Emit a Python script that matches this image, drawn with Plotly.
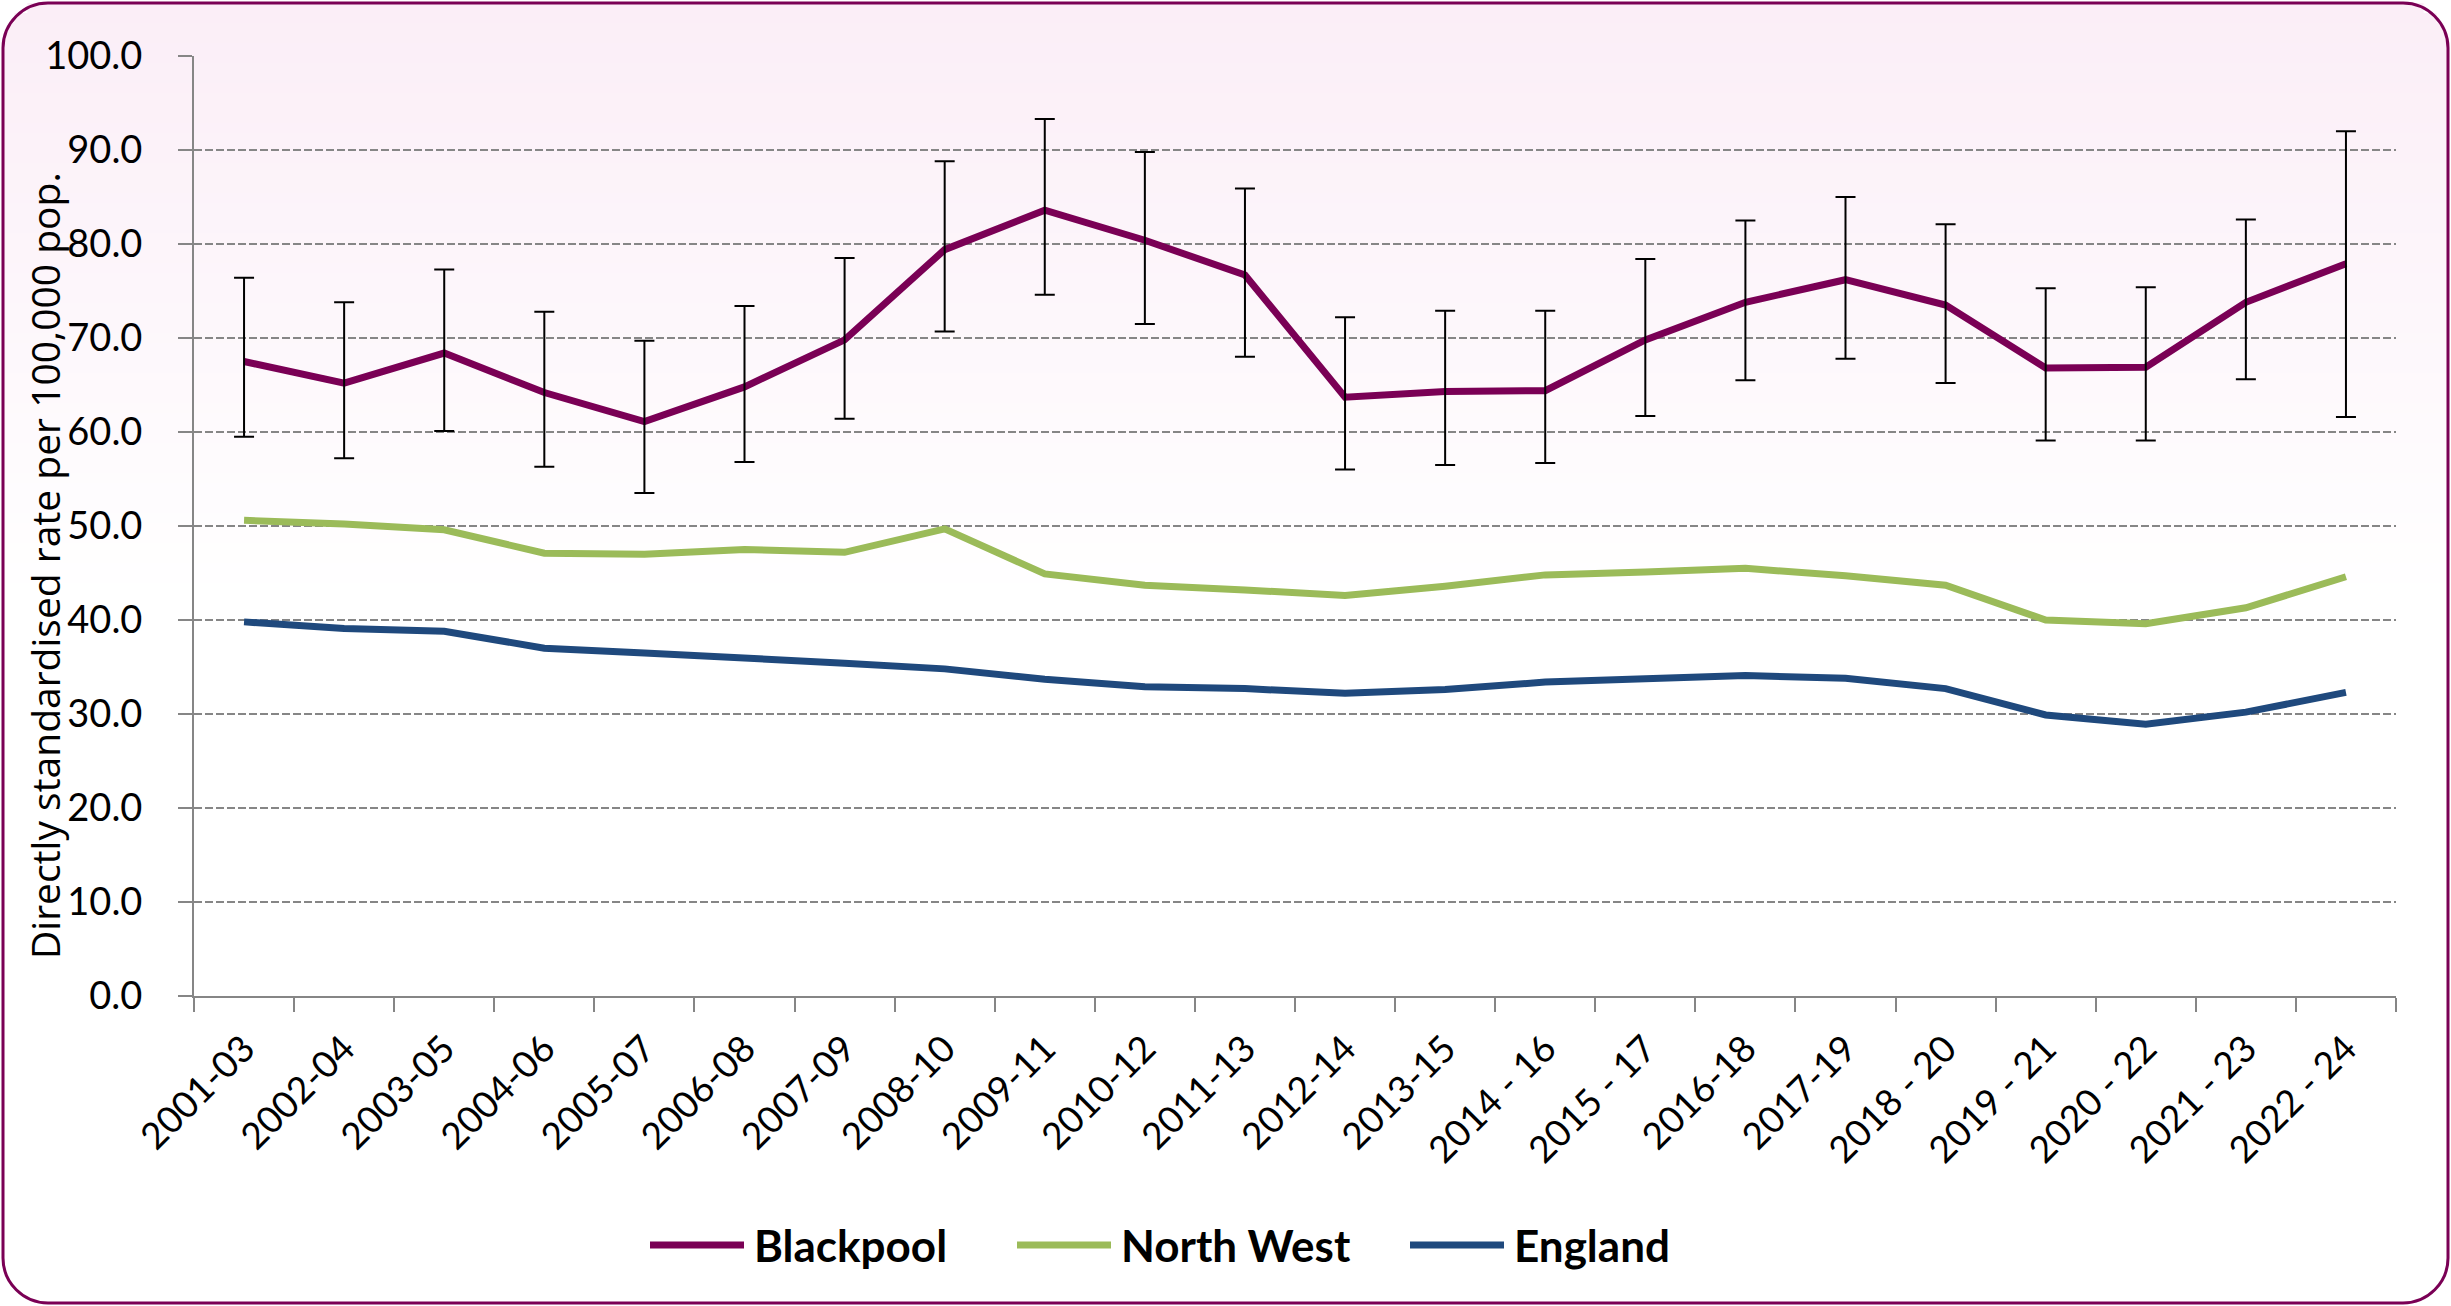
import math
import plotly.graph_objects as go

# ---------------- data ----------------
periods = ["2001-03", "2002-04", "2003-05", "2004-06", "2005-07", "2006-08", "2007-09",
           "2008-10", "2009-11", "2010-12", "2011-13", "2012-14", "2013-15", "2014 - 16",
           "2015 - 17", "2016-18", "2017-19", "2018 - 20", "2019 - 21", "2020 - 22",
           "2021 - 23", "2022 - 24"]

blackpool = [67.5, 65.2, 68.4, 64.2, 61.1, 64.8, 69.8, 79.4, 83.6, 80.4, 76.7,
             63.7, 64.3, 64.4, 69.8, 73.8, 76.2, 73.5, 66.8, 66.9, 73.8, 77.9]
blackpool_upper = [76.4, 73.8, 77.3, 72.8, 69.7, 73.4, 78.5, 88.8, 93.3, 89.8, 85.9,
                   72.2, 72.9, 72.9, 78.4, 82.5, 85.0, 82.1, 75.3, 75.4, 82.6, 92.0]
blackpool_lower = [59.5, 57.2, 60.1, 56.3, 53.5, 56.8, 61.4, 70.7, 74.6, 71.5, 68.0,
                   56.0, 56.5, 56.7, 61.7, 65.5, 67.8, 65.2, 59.1, 59.1, 65.6, 61.6]
north_west = [50.6, 50.2, 49.6, 47.1, 47.0, 47.5, 47.2, 49.7, 44.9, 43.7, 43.2,
              42.6, 43.6, 44.8, 45.1, 45.5, 44.7, 43.7, 40.0, 39.6, 41.3, 44.6]
england = [39.8, 39.1, 38.8, 37.0, 36.5, 36.0, 35.4, 34.8, 33.7, 32.9, 32.7,
           32.2, 32.6, 33.4, 33.7, 34.1, 33.8, 32.7, 29.9, 28.9, 30.2, 32.3]

y_ticks = [0, 10, 20, 30, 40, 50, 60, 70, 80, 90, 100]
series_names = ["Blackpool", "North West", "England"]
y_title = "Directly standardised rate per 100,000 pop."

# ---------------- styles ----------------
PURPLE = "#7A0055"
GREEN = "#9BBB59"
BLUE = "#1F497D"
GRID = "#868686"
W, H = 2451, 1306
ML, MR, MT, MB = 194, 55, 56, 310
PW, PH = W - ML - MR, H - MT - MB


def xp(px):
    return (px - ML) / PW


def yp(py):
    return (H - MB - py) / PH


fig = go.Figure()

fig.add_trace(go.Scatter(x=periods, y=north_west, mode="lines", name=series_names[1],
                         line=dict(color=GREEN, width=7), showlegend=False))
fig.add_trace(go.Scatter(x=periods, y=england, mode="lines", name=series_names[2],
                         line=dict(color=BLUE, width=7), showlegend=False))
fig.add_trace(go.Scatter(x=periods, y=blackpool, mode="lines", name=series_names[0],
                         line=dict(color=PURPLE, width=7), showlegend=False))
# error bars drawn on top of the Blackpool line
fig.add_trace(go.Scatter(
    x=periods, y=blackpool, mode="markers", showlegend=False, hoverinfo="skip",
    marker=dict(size=1, color="rgba(0,0,0,0)"),
    error_y=dict(type="data", symmetric=False,
                 array=[u - v for u, v in zip(blackpool_upper, blackpool)],
                 arrayminus=[v - lo for v, lo in zip(blackpool, blackpool_lower)],
                 color="black", thickness=2, width=10)))

shapes = []
# background gradient (pink at top fading to white)
top, bottom = 3, 1303
left, right = 3, 2448
rad = 45
n = 60
for i in range(n):
    y0 = top + i * 10
    y1 = y0 + 10
    t = i / (n - 1)
    r_ = round(251 + (255 - 251) * t)
    g_ = round(238 + (255 - 238) * t)
    b_ = round(247 + (255 - 247) * t)
    d = y0 - top
    inset = 0
    if d < rad:
        inset = rad - math.sqrt(max(rad ** 2 - (rad - d - 5) ** 2, 0))
    shapes.append(dict(type="rect", xref="paper", yref="paper", layer="below",
                       x0=xp(left + inset), x1=xp(right - inset), y0=yp(y1), y1=yp(y0),
                       fillcolor=f"rgb({r_},{g_},{b_})", line=dict(width=0)))

# rounded border
k = 0.45
path = (f"M {xp(left + rad)},{yp(top)} L {xp(right - rad)},{yp(top)} "
        f"C {xp(right - rad * k)},{yp(top)} {xp(right)},{yp(top + rad * k)} {xp(right)},{yp(top + rad)} "
        f"L {xp(right)},{yp(bottom - rad)} "
        f"C {xp(right)},{yp(bottom - rad * k)} {xp(right - rad * k)},{yp(bottom)} {xp(right - rad)},{yp(bottom)} "
        f"L {xp(left + rad)},{yp(bottom)} "
        f"C {xp(left + rad * k)},{yp(bottom)} {xp(left)},{yp(bottom - rad * k)} {xp(left)},{yp(bottom - rad)} "
        f"L {xp(left)},{yp(top + rad)} "
        f"C {xp(left)},{yp(top + rad * k)} {xp(left + rad * k)},{yp(top)} {xp(left + rad)},{yp(top)} Z")
shapes.append(dict(type="path", xref="paper", yref="paper", path=path, layer="above",
                   line=dict(color=PURPLE, width=3)))

# manual legend
legend_y = yp(1245)
legend_items = [(series_names[0], PURPLE, 650), (series_names[1], GREEN, 1017), (series_names[2], BLUE, 1410)]
annotations = []
for name, col, x0 in legend_items:
    shapes.append(dict(type="line", xref="paper", yref="paper", x0=xp(x0), x1=xp(x0 + 94),
                       y0=legend_y, y1=legend_y, line=dict(color=col, width=7)))
    annotations.append(dict(text=f"<b>{name}</b>", xref="paper", yref="paper",
                            x=xp(x0 + 102), y=legend_y, xanchor="left", yanchor="middle",
                            showarrow=False, font=dict(family="Lato", size=44, color="black")))

annotations.append(dict(text=y_title, xref="paper", yref="paper", x=xp(44), y=yp(566),
                        textangle=-90, xanchor="center", yanchor="middle", showarrow=False,
                        font=dict(family="Open Sans", size=39, color="black")))

fig.update_layout(
    width=W, height=H,
    margin=dict(l=ML, r=MR, t=MT, b=MB, pad=0),
    paper_bgcolor="white", plot_bgcolor="rgba(0,0,0,0)",
    shapes=shapes, annotations=annotations, showlegend=False,
    font=dict(family="Lato", size=38, color="black"),
)
fig.update_xaxes(
    type="category", tickson="boundaries", ticks="outside", ticklen=14, tickwidth=2,
    tickcolor=GRID, showline=True, linecolor=GRID, linewidth=2, showgrid=False,
    tickangle=-45, tickfont=dict(family="Lato", size=37, color="black"),
    ticklabelstandoff=14, range=[-0.5, len(periods) - 0.5],
)
fig.update_yaxes(
    range=[0, 100], tickvals=y_ticks, ticktext=[f"{v:.1f}" for v in y_ticks],
    ticks="outside", ticklen=14, tickwidth=2, tickcolor=GRID,
    showline=True, linecolor=GRID, linewidth=2,
    showgrid=True, gridcolor=GRID, gridwidth=1.5, griddash="8px,3px",
    zeroline=False, tickfont=dict(family="Lato", size=38, color="black"),
    ticklabelstandoff=28,
)

fig.write_html("out.html")
